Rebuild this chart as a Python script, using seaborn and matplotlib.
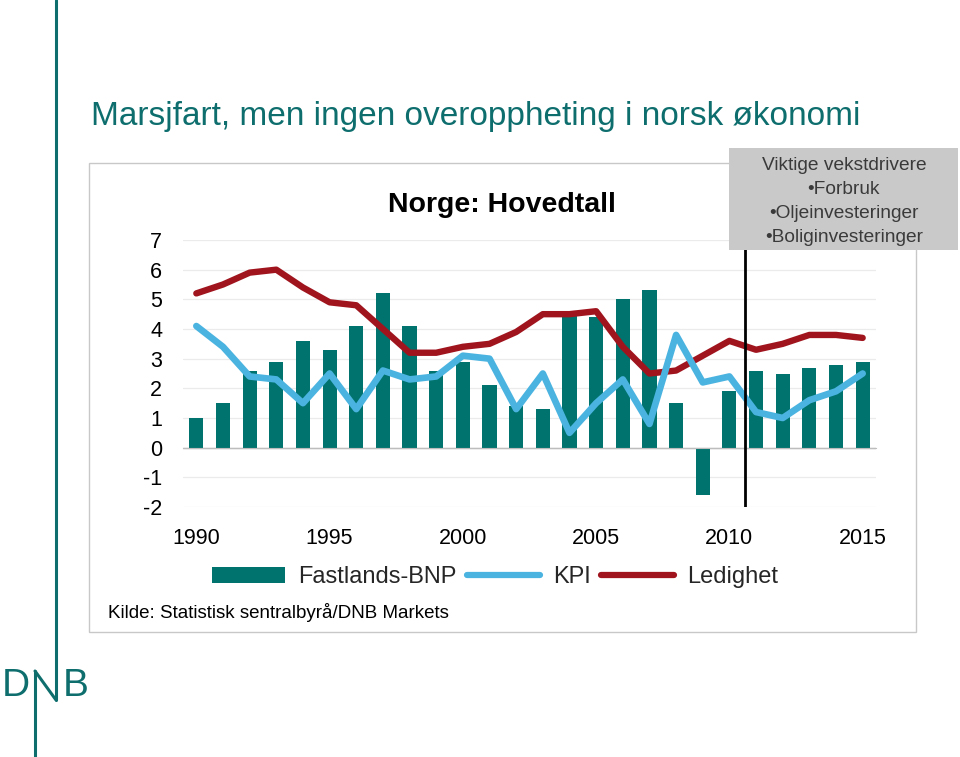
import numpy as np
import pandas as pd
import matplotlib
matplotlib.use("Agg")
import matplotlib.pyplot as plt
import seaborn as sns
from matplotlib.patches import Rectangle
from matplotlib.lines import Line2D

years = list(range(1990, 2016))
bnp = [1.0, 1.5, 2.6, 2.9, 3.6, 3.3, 4.1, 5.2, 4.1, 2.6, 2.9, 2.1, 1.4, 1.3,
       4.5, 4.4, 5.0, 5.3, 1.5, -1.6, 1.9, 2.6, 2.5, 2.7, 2.8, 2.9]
kpi = [4.1, 3.4, 2.4, 2.3, 1.5, 2.5, 1.3, 2.6, 2.3, 2.4, 3.1, 3.0, 1.3, 2.5,
       0.5, 1.5, 2.3, 0.8, 3.8, 2.2, 2.4, 1.2, 1.0, 1.6, 1.9, 2.5]
ledighet = [5.2, 5.5, 5.9, 6.0, 5.4, 4.9, 4.8, 4.0, 3.2, 3.2, 3.4, 3.5, 3.9, 4.5,
            4.5, 4.6, 3.4, 2.5, 2.6, 3.1, 3.6, 3.3, 3.5, 3.8, 3.8, 3.7]
xtick_years = [1990, 1995, 2000, 2005, 2010, 2015]
yticks = [-2, -1, 0, 1, 2, 3, 4, 5, 6, 7]
series_names = ["Fastlands-BNP", "KPI", "Ledighet"]
title = "Marsjfart, men ingen overoppheting i norsk økonomi"
chart_title = "Norge: Hovedtall"
box_lines = ["Viktige vekstdrivere", "•Forbruk", "•Oljeinvesteringer", "•Boliginvesteringer"]
source = "Kilde: Statistisk sentralbyrå/DNB Markets"

df = pd.DataFrame({"year": years, "bnp": bnp, "kpi": kpi, "ledighet": ledighet})

TEAL = "#00736E"
TEAL_T = "#0E6E6E"
BLUE = "#4BB3E0"
RED = "#A0141E"
GRID = "#EBEBEB"

sns.set_style("white")
plt.rcParams["font.family"] = ["Liberation Sans", "DejaVu Sans"]

W, H = 960, 757
fig = plt.figure(figsize=(9.6, 7.57), dpi=100)

def fx(px):
    return px / W

def fy(py):
    return 1 - py / H

# chart panel border
fig.add_artist(Rectangle((fx(89), fy(632)), fx(916) - fx(89), fy(163) - fy(632),
                         transform=fig.transFigure, facecolor="white",
                         edgecolor="#C8C8C8", linewidth=1.0, zorder=-1))

ax = fig.add_axes([fx(183), fy(507), fx(876) - fx(183), fy(240) - fy(507)])
ax.set_facecolor("none")

sns.barplot(data=df, x="year", y="bnp", native_scale=True, color=TEAL,
            saturation=1, width=0.53, linewidth=0, ax=ax, zorder=2)
sns.lineplot(data=df, x="year", y="ledighet", color=RED, linewidth=4.6, ax=ax,
             zorder=3, solid_capstyle="round", solid_joinstyle="round")
sns.lineplot(data=df, x="year", y="kpi", color=BLUE, linewidth=4.8, ax=ax,
             zorder=4, solid_capstyle="round", solid_joinstyle="round")

ax.set_xlim(1989.5, 2015.5)
ax.set_ylim(-2, 7)
ax.set_xlabel("")
ax.set_ylabel("")
ax.set_yticks(yticks)
ax.set_yticklabels([str(v) for v in yticks])
for y in yticks:
    ax.axhline(y, color=GRID, linewidth=0.9, zorder=0)
ax.axhline(0, color="#BDBDBD", linewidth=1.0, zorder=1)

for s in ax.spines.values():
    s.set_visible(False)
ax.spines["bottom"].set_visible(True)
ax.spines["bottom"].set_position(("data", 0))
ax.spines["bottom"].set_color("#BDBDBD")
ax.set_xticks(xtick_years)
ax.set_xticklabels([str(v) for v in xtick_years])
ax.set_xticks([y - 0.5 for y in years] + [years[-1] + 0.5], minor=True)
ax.tick_params(axis="x", which="major", length=0, pad=58, labelsize=15.5, colors="black")
ax.tick_params(axis="x", which="minor", length=5, width=0.9, color="#BDBDBD", direction="out")
ax.tick_params(axis="y", length=0, pad=15, labelsize=15.5, colors="black")

# vertical separator line
ax.axvline(2010.6, color="black", linewidth=2.0, zorder=5)

# legend
handles = [Rectangle((0, 0), 1, 1, facecolor=TEAL, edgecolor="none"),
           Line2D([0], [0], color=BLUE, linewidth=4.5, solid_capstyle="round"),
           Line2D([0], [0], color=RED, linewidth=4.5, solid_capstyle="round")]
fig.legend(handles, series_names, loc="center", bbox_to_anchor=(fx(495), fy(577)),
           ncol=3, frameon=False, fontsize=17, handlelength=3.1, handletextpad=0.55,
           columnspacing=0.45, handleheight=0.65)

# chart title
fig.text(fx(502), fy(205), chart_title, ha="center", va="center", fontsize=20.5,
         fontweight="bold", color="black")

# source
fig.text(fx(108), fy(612), source, ha="left", va="center", fontsize=13.5, color="black")

# grey box
fig.add_artist(Rectangle((fx(729), fy(250)), fx(958) - fx(729), fy(148) - fy(250),
                         transform=fig.transFigure, facecolor="#C9C9C9",
                         edgecolor="none", zorder=6))
for i, line in enumerate(box_lines):
    fig.text(fx(844), fy(166 + i * 23.7), line, ha="center", va="center",
             fontsize=13.8, color="#3A3A3A", zorder=7)

# page title
fig.text(fx(91), fy(117), title, ha="left", va="center", fontsize=24, color=TEAL_T)

# decorative vertical line + DNB logo
fig.add_artist(Line2D([fx(56), fx(56)], [fy(0), fy(700)], transform=fig.transFigure,
                      color=TEAL_T, linewidth=2.2))
fig.add_artist(Line2D([fx(35), fx(35)], [fy(671), fy(757)], transform=fig.transFigure,
                      color=TEAL_T, linewidth=2.2))
fig.add_artist(Line2D([fx(35), fx(56)], [fy(671), fy(700)], transform=fig.transFigure,
                      color=TEAL_T, linewidth=2.2))
fig.text(fx(16), fy(686), "D", ha="center", va="center", fontsize=28, color=TEAL_T,
         fontweight="light")
fig.text(fx(76), fy(686), "B", ha="center", va="center", fontsize=28, color=TEAL_T,
         fontweight="light")

fig.savefig("out.png", dpi=100)
